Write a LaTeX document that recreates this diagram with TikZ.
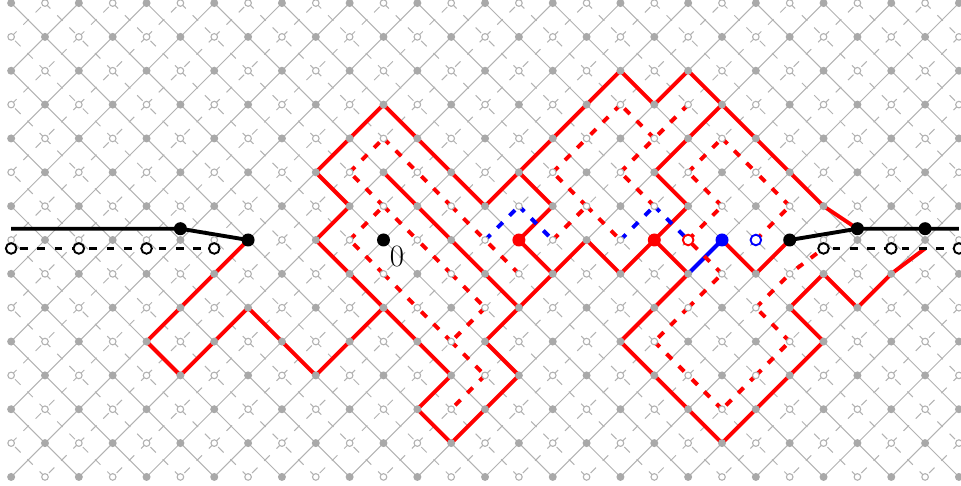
\documentclass[tikz,border=0pt]{standalone}
\usepackage{tikz}
\usetikzlibrary{positioning,backgrounds}
\definecolor{latticegray}{RGB}{178,178,178}

\begin{document}
\begin{tikzpicture}[
  x=33.85pt, y=33.85pt,
  gridnode/.style={circle, fill=latticegray!95!black, inner sep=0pt, minimum size=8pt},
  dualnode/.style={circle, draw=latticegray, fill=white, line width=1.1pt,
                   inner sep=0pt, minimum size=6.6pt},
  gridedge/.style={draw=latticegray, line width=1pt},
  dashes/.style={dash pattern=on 7.7pt off 9.6pt},
  dualedge/.style={draw=latticegray, line width=1pt, dashes},
  tree/.style={line width=3.9pt},
  dot/.style={circle, fill=#1, inner sep=0pt, minimum size=13pt},
  ring/.style={circle, draw=#1, fill=white, line width=1.9pt,
               inner sep=0pt, minimum size=10.6pt},
  ]
  \useasboundingbox (-383.5pt,-246pt) rectangle (577.5pt,240pt);

  % lattice
  \foreach \a in {-11,-10,...,17}
    \foreach \b in {-7,-6,...,7} {
      \pgfmathtruncatemacro{\m}{mod(\a+\b+100,2)}
      \ifodd\m
        \node[dualnode] (v\a_\b) at (\a,\b) {};
      \else
        \node[gridnode] (v\a_\b) at (\a,\b) {};
      \fi
    }

  % marked points
  \node[dot=black] (o) at (0,0) {};
  \node[below right=1.2pt and 1.5pt of o, inner sep=0pt, font=\fontsize{31}{31}\selectfont] (olabel) {0};
  \node[dot=black] (wl) at (-4,0) {};
  \node[dot=black] (wr) at (12,0) {};
  \node[dot=black] (kl) at (-6,1/3) {};
  \node[dot=black] (kr) at (14,1/3) {};
  \node[dot=black] (kq) at (16,1/3) {};
  \coordinate (kstart) at (-11,1/3);
  \coordinate (kend) at (17,1/3);
  \foreach \a in {-11,-9,-7,-5,13,15,17}
    \node[ring=black] (h\a) at (\a,-1/4) {};
  \coordinate (tip) at (16,-1/4);
  \node[dot=red] (ra) at (4,0) {};
  \node[dot=red] (rb) at (8,0) {};
  \node[dot=blue] (ba) at (10,0) {};
  \node[ring=red] (rc) at (9,0) {};
  \node[ring=blue] (bc) at (11,0) {};

  \begin{pgfonlayer}{background}
    % grey edges, one row at a time
    \foreach \a in {-11,-10,...,16}
      \foreach \t in {-6,-5,...,7} {
        \pgfmathtruncatemacro{\m}{mod(\a+\t+100,2)}
        \pgfmathtruncatemacro{\sl}{\t-\m}
        \pgfmathtruncatemacro{\sr}{\t-1+\m}
        \pgfmathtruncatemacro{\dl}{\t-1+\m}
        \pgfmathtruncatemacro{\dr}{\t-\m}
        \pgfmathtruncatemacro{\an}{\a+1}
        \draw[gridedge] (v\a_\sl.center) -- (v\an_\sr.center);
        \ifodd\t
          \draw[dualedge] (v\a_\dl.center) -- (v\an_\dr.center);
        \else
          \draw[dualedge] (v\an_\dr.center) -- (v\a_\dl.center);
        \fi
      }

    % red tree
    \draw[tree, red, line join=miter]
      (wl.center) -- (v-7_-3.center) -- (v-6_-4.center) -- (v-4_-2.center)
      -- (v-2_-4.center) -- (v0_-2.center) -- (v2_-4.center) -- (v1_-5.center)
      -- (v2_-6.center) -- (v4_-4.center) -- (v3_-3.center) -- (v6_0.center)
      -- (v7_-1.center) -- (rb.center) -- (v9_1.center) -- (v8_2.center)
      -- (v10_4.center) -- (v9_5.center) -- (v8_4.center) -- (v7_5.center)
      -- (v3_1.center) -- (v0_4.center) -- (v-2_2.center) -- (v-1_1.center)
      -- (v-2_0.center) -- (v0_-2.center);
    \draw[tree, red] (v4_2.center) -- (v5_1.center) -- (ra.center) -- (v5_-1.center);
    \draw[tree, red] (v0_2.center) -- (v4_-2.center);
    \draw[tree, red] (rb.center) -- (v9_-1.center) -- (v7_-3.center) -- (v10_-6.center)
      -- (v13_-3.center) -- (v12_-2.center) -- (v13_-1.center) -- (v14_-2.center)
      -- (v15_-1.center) -- (tip);
    \draw[tree, red] (v10_4.center) -- (v13_1.center) -- (kr.center);
    \draw[tree, red] (ba.center) -- (v11_-1.center) -- (wr.center);
    \draw[tree, blue] (v9_-1.center) -- (ba.center);

    % dual tree, each edge on its own
    \foreach \sa/\sb/\ea/\eb in {
      -1/2/0/3, 0/3/1/2, 2/1/1/2, 2/1/3/0, 4/-1/3/0, 0/1/-1/2, -1/0/0/1,
      0/1/1/0, 2/-1/1/0, 2/-1/3/-2, 3/-2/2/-3, 0/-1/-1/0, 0/-1/1/-2,
      2/-3/1/-2, 2/-3/3/-4, 3/-4/2/-5,
      5/0/6/1, 6/1/7/0, 6/1/5/2, 5/2/6/3, 7/4/6/3, 8/3/7/4, 9/4/8/3,
      7/2/8/3, 8/1/7/2,
      11/0/12/1, 12/1/11/2, 10/3/11/2, 9/2/10/3, 10/1/9/2, 9/0/10/1,
      10/-1/9/0, 9/-2/10/-1, 9/-2/8/-3, 8/-3/9/-4, 10/-5/9/-4, 11/-4/10/-5,
      11/-4/12/-3, 12/-3/11/-2, 11/-2/12/-1}
      \draw[tree, red, dashes] (v\sa_\sb.center) -- (v\ea_\eb.center);
    \draw[tree, red, dashes, dash phase=8.3pt] (v12_-1.center) -- (h13.center);
    \foreach \sa/\sb/\ea/\eb in {3/0/4/1, 4/1/5/0, 7/0/8/1, 8/1/9/0}
      \draw[tree, blue, dashes] (v\sa_\sb.center) -- (v\ea_\eb.center);

    % black walks
    \draw[tree, black] (kstart) -- (kl.center) -- (wl.center);
    \draw[tree, black] (wr.center) -- (kr.center) -- (kend);
    \draw[tree, black, dashes, dash phase=8.3pt] (h-11.center) -- (h-5.center);
    \draw[tree, black, dashes, dash phase=8.3pt] (h13.center) -- (h17.center);
  \end{pgfonlayer}
\end{tikzpicture}
\end{document}
